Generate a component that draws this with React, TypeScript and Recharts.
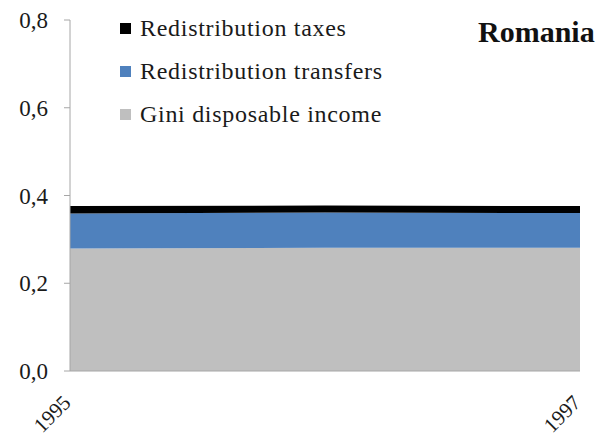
import React from 'react';
import { AreaChart, Area, XAxis, YAxis } from 'recharts';

const years = ['1995', '1996', '1997'];
const giniDisposable = [0.279, 0.281, 0.281];
const redistTransfers = [0.080, 0.080, 0.079];
const redistTaxes = [0.017, 0.016, 0.016];
const yTicks = [0, 0.2, 0.4, 0.6, 0.8];

const data = years.map((year, i) => ({
  year,
  gini: giniDisposable[i],
  transfers: redistTransfers[i],
  taxes: redistTaxes[i],
}));

const FONT = "'Liberation Serif', 'DejaVu Serif', serif";
const AXIS_GREY = '#a6a6a6';

const legendItems = [
  { label: 'Redistribution taxes', color: '#000000' },
  { label: 'Redistribution transfers', color: '#4f81bd' },
  { label: 'Gini disposable income', color: '#bfbfbf' },
];

// rotated year labels, end of text hangs just below the axis
const YearTick = (props: any) => {
  const { x, y, payload } = props;
  const ax = x + 2;
  const ay = y + 25;
  return (
    <text
      x={ax}
      y={ay}
      transform={`rotate(-45 ${ax} ${ay})`}
      textAnchor="end"
      style={{ fontFamily: FONT }}
      fontSize={21}
      fill="#1a1a1a"
    >
      {payload.value}
    </text>
  );
};

export default function App() {
  return (
    <div style={{ position: 'absolute', left: 0, top: 0, width: 603, height: 444, background: '#fff', fontFamily: FONT }}>
      <AreaChart width={603} height={444} data={data} margin={{ top: 20, right: 23, left: 10, bottom: 13 }}>
        <XAxis
          dataKey="year"
          interval={1}
          tickLine={false}
          axisLine={{ stroke: AXIS_GREY }}
          tick={<YearTick />}
          height={60}
        />
        <YAxis
          domain={[0, 0.8]}
          ticks={yTicks}
          width={60}
          tickSize={6}
          tickMargin={16}
          axisLine={{ stroke: AXIS_GREY }}
          tickLine={{ stroke: AXIS_GREY }}
          tickFormatter={(v: number) => v.toFixed(1).replace('.', ',')}
          tick={{ fontSize: 23, fill: '#1a1a1a', style: { fontFamily: FONT } }}
        />
        <Area type="linear" dataKey="gini" stackId="1" stroke="none" fill="#bfbfbf" fillOpacity={1} isAnimationActive={false} />
        <Area type="linear" dataKey="transfers" stackId="1" stroke="none" fill="#4f81bd" fillOpacity={1} isAnimationActive={false} />
        <Area type="linear" dataKey="taxes" stackId="1" stroke="none" fill="#000000" fillOpacity={1} isAnimationActive={false} />
      </AreaChart>
      <div style={{ position: 'absolute', left: 120, top: 7 }}>
        {legendItems.map((it) => (
          <div key={it.label} style={{ display: 'flex', alignItems: 'center', height: 43 }}>
            <span style={{ width: 11, height: 11, background: it.color, marginRight: 9, display: 'inline-block' }} />
            <span style={{ fontSize: 24, letterSpacing: 0.7, color: '#1a1a1a' }}>{it.label}</span>
          </div>
        ))}
      </div>
      <div style={{ position: 'absolute', left: 478, top: 15, fontWeight: 'bold', fontSize: 30, color: '#111' }}>
        Romania
      </div>
    </div>
  );
}
